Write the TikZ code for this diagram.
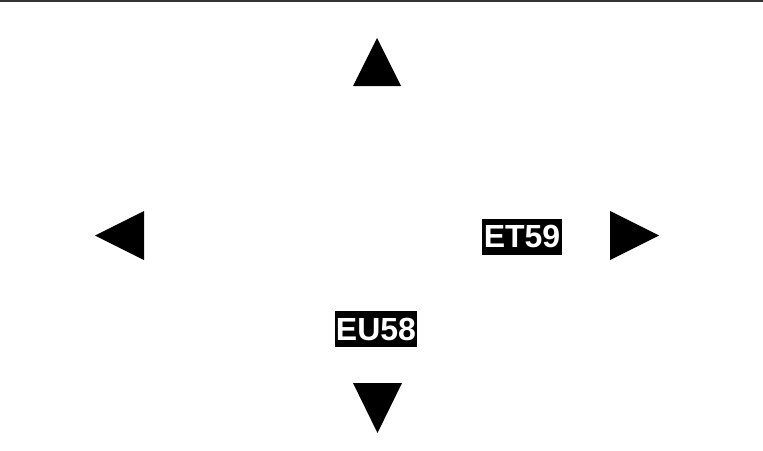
\documentclass[tikz,border=0pt]{standalone}
\usepackage{fontspec}
\setmainfont{Liberation Sans}
\begin{document}
\begin{tikzpicture}[x=1pt,y=-1pt,
  tri/.style={fill=black,draw=none},
  tag/.style={fill=black,text=white,font=\bfseries\fontsize{32}{32}\selectfont,inner sep=0pt,minimum height=36,minimum width=#1}]
\useasboundingbox (0,0) rectangle (763,450);
\draw[line width=1.5pt,black!80] (0,0.75) -- (763,0.75);
\fill[tri] (377,38) -- (401,86) -- (353,86) -- cycle;
\fill[tri] (95,235.5) -- (144,211) -- (144,260) -- cycle;
\fill[tri] (659,235.5) -- (610,211) -- (610,260) -- cycle;
\fill[tri] (377.5,433) -- (353,383) -- (402,383) -- cycle;
\node[tag=80] (et) at (522,236.5) {ET59};
\node[tag=82] (eu) at (376,329) {EU58};
\end{tikzpicture}
\end{document}
